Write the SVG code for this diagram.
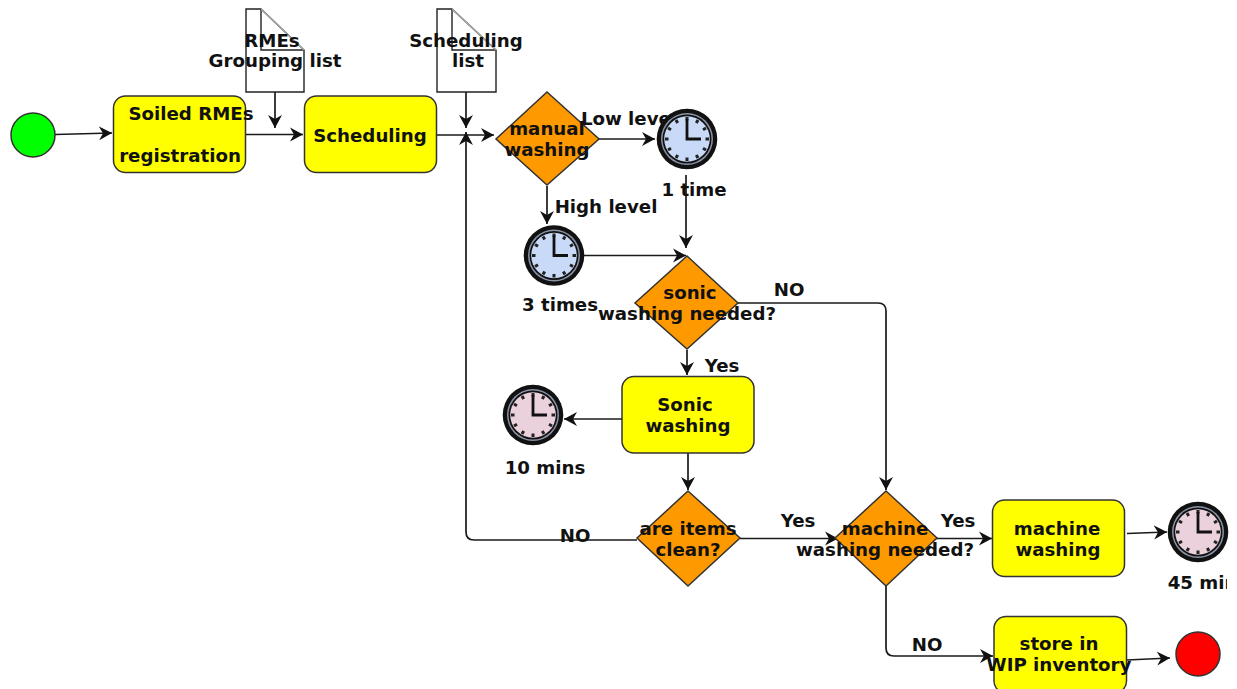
<svg xmlns="http://www.w3.org/2000/svg" width="1237" height="689" viewBox="0 0 1237 689">
<style>
text{font-family:"DejaVu Sans",sans-serif;font-weight:bold;font-size:18.2px;fill:#111;text-anchor:middle}
.task{fill:#ffff00;stroke:#333;stroke-width:1.5}
.gw{fill:#ff9900;stroke:#333;stroke-width:1.5}
.doc{fill:#fff;stroke:#222;stroke-width:1.4}
.fold{fill:none;stroke:#aaa;stroke-width:1.3}
.c{fill:none;stroke:#1a1a1a;stroke-width:1.7;marker-end:url(#arr)}
</style>
<defs>
<marker id="arr" markerUnits="userSpaceOnUse" markerWidth="16" markerHeight="16" refX="13" refY="8" orient="auto">
<path d="M0 1 L13 8 L0 15 L4 8 Z" fill="#111"/>
</marker>
<g id="clockface">
<circle r="30.300" fill="#111"/>
<circle r="26" fill="#8a94a8"/>
<circle r="24.500" fill="#111"/>
<circle r="22.800" fill="currentColor"/>
<path d="M0 -22V-18.500M0 22V18.500M-22 0H-18.500M22 0H18.500M-11 -19L-9.300 -16M11 -19L9.300 -16M-11 19L-9.300 16M11 19L9.300 16M-19 -11L-16 -9.300M19 -11L16 -9.300M-19 11L-16 9.300M19 11L16 9.300" stroke="#222" stroke-width="3" fill="none"/>
<path d="M0 -20V0H14" stroke="#111" stroke-width="2.800" fill="none"/>
</g>
<clipPath id="edge"><rect x="1100" y="560" width="127" height="40"/></clipPath>
<clipPath id="lowclip"><rect x="570" y="100" width="99" height="35"/></clipPath>
</defs>

<g id="connectors">
<path class="c" d="M55 134.500L112 133"/>
<path class="c" d="M246 134.500H303"/>
<path class="c" d="M275 92V128"/>
<path class="c" d="M437 135H494"/>
<path class="c" d="M466 92V128"/>
<path class="c" d="M599 139H655"/>
<path class="c" d="M547 186V224"/>
<path class="c" d="M686 175V248"/>
<path class="c" d="M584 255.500H686"/>
<path class="c" d="M738 303H878Q886 303 886 311V490"/>
<path class="c" d="M687 350V375"/>
<path class="c" d="M622 419H564"/>
<path class="c" d="M688 453V490"/>
<path class="c" d="M637 540H474Q466 540 466 532V132"/>
<path class="c" d="M740 538.500H838"/>
<path class="c" d="M936 538.500H992"/>
<path class="c" d="M1127 533.500L1167 532"/>
<path class="c" d="M886 585V648Q886 656 894 656H993"/>
<path class="c" d="M1127 660L1170 658"/>
</g>

<g id="start"><circle cx="33" cy="135" r="22" fill="#00ff00" stroke="#333" stroke-width="1.5"/></g>

<g id="doc-rmes">
<path class="doc" d="M246 9H261L304 50V92H246Z"/>
<path class="doc" d="M261 9V50H304" style="fill:none"/>
<path class="fold" d="M261 9L304 50"/>
<text x="272" y="47">RMEs</text>
<text x="275" y="67">Grouping list</text>
</g>
<g id="doc-scheduling">
<path class="doc" d="M437 9H452L496 50V92H437Z"/>
<path class="doc" d="M452 9V50H496" style="fill:none"/>
<path class="fold" d="M452 9L496 50"/>
<text x="466" y="47">Scheduling</text>
<text x="468" y="67">list</text>
</g>

<g id="task-soiled">
<rect class="task" x="113.500" y="96" width="132" height="76.500" rx="12"/>
<text x="191" y="120">Soiled RMEs</text>
<text x="180" y="162">registration</text>
</g>
<g id="task-scheduling">
<rect class="task" x="304.500" y="96" width="132" height="76.500" rx="12"/>
<text x="370" y="142">Scheduling</text>
</g>

<g id="gw-manual">
<path class="gw" d="M547 92L599 139L547 185L496 139Z"/>
<text x="547" y="135">manual</text>
<text x="547" y="156">washing</text>
</g>
<text x="629" y="125" clip-path="url(#lowclip)">Low level</text>
<g id="clock-1" color="#c9daf8" transform="translate(687,139)">
<use href="#clockface"/>
</g>
<text x="694" y="196">1 time</text>
<text x="606" y="213">High level</text>
<g id="clock-3" color="#c9daf8" transform="translate(554,255.500)">
<use href="#clockface"/>
</g>
<text x="560" y="311">3 times</text>

<g id="gw-sonic">
<path class="gw" d="M687 256L738 303L687 349L635 303Z"/>
<text x="690" y="299">sonic</text>
<text x="687" y="320">washing needed?</text>
</g>
<text x="789" y="296">NO</text>
<text x="722" y="372">Yes</text>

<g id="task-sonic">
<rect class="task" x="622" y="376.500" width="132" height="76.500" rx="12"/>
<text x="685" y="411">Sonic</text>
<text x="688" y="432">washing</text>
</g>
<g id="clock-10" color="#ead1dc" transform="translate(533,415)">
<use href="#clockface"/>
</g>
<text x="545" y="474">10 mins</text>

<g id="gw-clean">
<path class="gw" d="M688 491L740 538L688 586L637 538Z"/>
<text x="688" y="535">are items</text>
<text x="688" y="556">clean?</text>
</g>
<text x="575" y="542">NO</text>
<text x="798" y="527">Yes</text>

<g id="gw-machine">
<path class="gw" d="M886 491L937 538L886 586L835 538Z"/>
<text x="885" y="535">machine</text>
<text x="885" y="556">washing needed?</text>
</g>
<text x="958" y="527">Yes</text>

<g id="task-machine">
<rect class="task" x="992.500" y="500" width="132" height="76.500" rx="12"/>
<text x="1057" y="535">machine</text>
<text x="1058" y="556">washing</text>
</g>
<g id="clock-45" color="#ead1dc" transform="translate(1198,532)">
<use href="#clockface"/>
</g>
<text x="1208" y="589" clip-path="url(#edge)">45 mins</text>

<text x="927" y="651">NO</text>
<g id="task-store">
<rect class="task" x="994" y="616.500" width="132.500" height="76.500" rx="12"/>
<text x="1059" y="650">store in</text>
<text x="1059" y="671">WIP inventory</text>
</g>
<g id="end"><circle cx="1198" cy="654" r="22" fill="#ff0000" stroke="#333" stroke-width="1.5"/></g>
</svg>
